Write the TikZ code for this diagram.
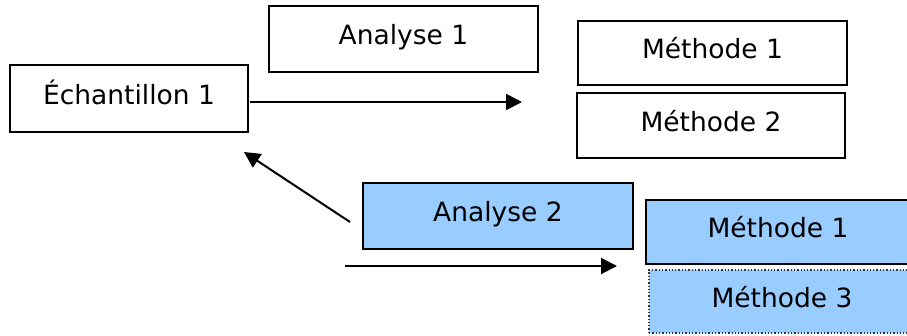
\documentclass[tikz,border=0pt]{standalone}
\usepackage{fontspec}
\setmainfont{DejaVu Sans}
\usetikzlibrary{arrows.meta}
\definecolor{paleblue}{HTML}{99CCFF}
\begin{document}
\begin{tikzpicture}[x=1pt,y=-1pt,
  box/.style={draw=black, line width=2pt, inner sep=0pt,
    font=\fontsize{26.5}{30}\selectfont, text height=20pt, text depth=9pt},
  bluebox/.style={box, fill=paleblue},
  arr/.style={line width=2pt, -{Triangle[length=16pt,width=16pt]}}]
  \useasboundingbox (0,0) rectangle (907,335);
  \clip (0,0) rectangle (907,335);

  % first sample and its analysis
  \node[box, minimum width=238pt, minimum height=67pt] (ech) at (129,98.5) {Échantillon 1};
  \node[box, minimum width=269pt, minimum height=66pt] (an1) at (403.5,39) {Analyse 1};
  \node[box, minimum width=269pt, minimum height=64pt] (m1a) at (712.5,53) {Méthode 1};
  \node[box, minimum width=268pt, minimum height=65pt] (m2) at (711,125.5) {Méthode 2};

  % second analysis, shaded
  \node[bluebox, minimum width=270pt, minimum height=66pt] (an2) at (498,216) {Analyse 2};
  \node[bluebox, minimum width=264pt, minimum height=64pt] (m1b) at (778,232) {Méthode 1};
  \node[bluebox, draw=black!80, line width=1.3pt, dotted, minimum width=266pt, minimum height=63pt] (m3) at (782,301.5) {Méthode 3};

  % arrow end points
  \coordinate (a1s) at (250,102);
  \coordinate (a1e) at (522,102);
  \coordinate (dgs) at (350,222);
  \coordinate (dge) at (244,152);
  \coordinate (a2s) at (345,266);
  \coordinate (a2e) at (617,266);

  \draw[arr] (a1s) -- (a1e);
  \draw[arr] (dgs) -- (dge);
  \draw[arr] (a2s) -- (a2e);
\end{tikzpicture}
\end{document}
